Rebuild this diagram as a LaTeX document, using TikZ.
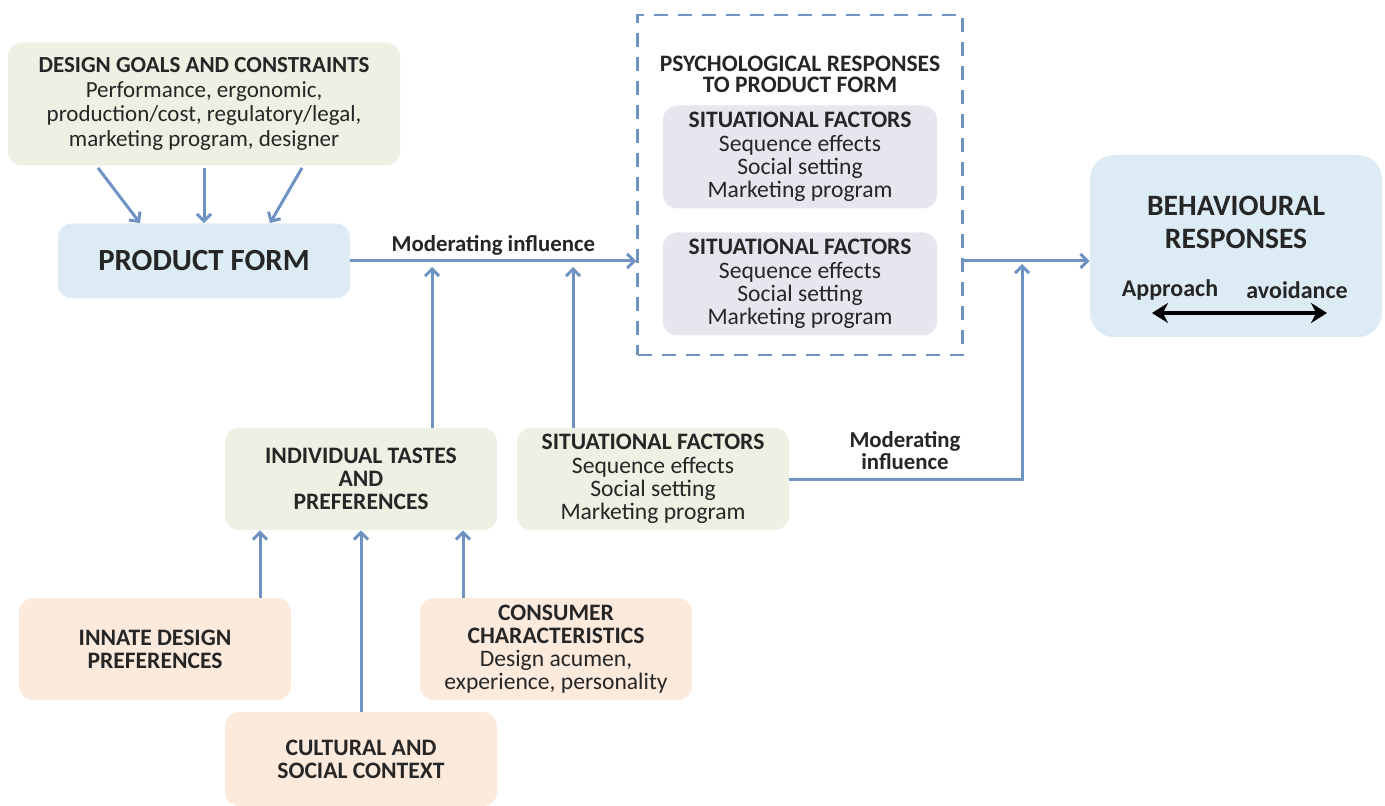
\documentclass[tikz,border=0pt]{standalone}
\usepackage{fontspec}
\setmainfont{Carlito}
\usetikzlibrary{arrows.meta}
\definecolor{goalfill}{HTML}{EEF0E3}
\definecolor{formfill}{HTML}{DDEBF4}
\definecolor{psyfill}{HTML}{E7E5EE}
\definecolor{rootfill}{HTML}{FCEADD}
\definecolor{linkblue}{HTML}{6E93C2}
\definecolor{inktext}{HTML}{262626}
\lineskiplimit=-20pt

\begin{document}
\begin{tikzpicture}[
    x=0.5pt, y=-0.5pt,
    box/.style={rectangle, rounded corners=7pt, inner sep=2pt, align=center, text=inktext, font=\fontsize{11.8}{11.6}\selectfont},
    goalbox/.style={box, fill=goalfill, minimum width=136pt, minimum height=51pt},
    sitbox/.style={box, fill=psyfill, minimum width=137pt, minimum height=51.5pt},
    rootbox/.style={box, fill=rootfill, minimum width=136pt, minimum height=51pt},
    tag/.style={text=inktext, align=center, inner sep=2pt, font=\fontsize{11.4}{11}\selectfont\bfseries},
    arrow/.style={-{Straight Barb[length=3.5pt, width=7pt]}, line width=1.5pt, draw=linkblue},
    bothway/.style={{Stealth[length=8pt, width=10pt]}-{Stealth[length=8pt, width=10pt]}, line width=2pt, black}
]
    \useasboundingbox (0,0) rectangle (1385,806);

    % top row
    \node[box, fill=goalfill, minimum width=196pt, minimum height=61.5pt, font=\fontsize{11.5}{12.4}\selectfont] (goals) at (204,104)
        {\textbf{DESIGN GOALS AND CONSTRAINTS}\\Performance, ergonomic,\\production/cost, regulatory/legal,\\marketing program, designer};
    \node[box, fill=formfill, minimum width=146pt, minimum height=37.5pt, font=\fontsize{15.4}{16}\selectfont\bfseries] (form) at (204,261) {PRODUCT FORM};

    \node[draw=linkblue, line width=1.2pt, dash pattern=on 7pt off 5pt, minimum width=162.5pt, minimum height=170pt] (psy) at (800,185) {};
    \node[tag, font=\fontsize{11.8}{10.6}\selectfont\bfseries] (psyhead) at (800,74) {PSYCHOLOGICAL RESPONSES\\TO PRODUCT FORM};
    \node[sitbox] (sfa) at (800,157) {\textbf{SITUATIONAL FACTORS}\\Sequence effects\\Social setting\\Marketing program};
    \node[sitbox] (sfb) at (800,284) {\textbf{SITUATIONAL FACTORS}\\Sequence effects\\Social setting\\Marketing program};

    \node[box, fill=formfill, minimum width=146pt, minimum height=91pt, rounded corners=12pt] (behav) at (1236,246) {};
    \node[tag, font=\fontsize{14.8}{16.5}\selectfont\bfseries] (behavhead) at (1236,222) {BEHAVIOURAL\\RESPONSES};
    \node[tag, font=\fontsize{12}{12}\selectfont\bfseries] (appr) at (1170,290) {Approach};
    \node[tag, font=\fontsize{12}{12}\selectfont\bfseries] (avoid) at (1297,290) {avoidance};
    \coordinate (apL) at (1152,313);
    \coordinate (apR) at (1327,313);

    % middle row
    \node[goalbox] (indiv) at (361,479) {\textbf{INDIVIDUAL TASTES}\\\textbf{AND}\\\textbf{PREFERENCES}};
    \node[goalbox] (sfc) at (653,479) {\textbf{SITUATIONAL FACTORS}\\Sequence effects\\Social setting\\Marketing program};
    \node[tag] (modtwo) at (905,451) {Moderating\\influence};

    % bottom row
    \node[rootbox] (innate) at (155,649) {\textbf{INNATE DESIGN}\\\textbf{PREFERENCES}};
    \node[rootbox] (consumer) at (556,649) {\textbf{CONSUMER}\\\textbf{CHARACTERISTICS}\\Design acumen,\\experience, personality};
    \node[rootbox, minimum height=47pt] (cultural) at (361,759) {\textbf{CULTURAL AND}\\\textbf{SOCIAL CONTEXT}};

    \coordinate (tasteup) at ([xshift=35.5pt]indiv.north);
    \coordinate (situp) at ([xshift=-40pt]sfc.north);
    \coordinate (joint) at (1022,262);

    \draw[arrow] ([xshift=-53pt, yshift=-1pt]goals.south) -- ([xshift=-32pt]form.north);
    \draw[arrow] ([yshift=-1pt]goals.south) -- (form.north);
    \draw[arrow] ([xshift=49pt, yshift=-1pt]goals.south) -- ([xshift=33pt]form.north);

    \draw[arrow] (form.east) -- (form.east -| psy.west) node[tag, midway, above] (modone) {Moderating influence};
    \draw[arrow, shorten >=3pt] (tasteup) -- (tasteup |- form.east);
    \draw[arrow, shorten >=3pt] (situp) -- (situp |- form.east);
    \draw[arrow] (form.east -| psy.east) -- (form.east -| behav.west);
    \draw[arrow, shorten >=1pt] (sfc.east) -| (joint);

    \draw[arrow] ([xshift=52.5pt]innate.north) -- ([xshift=-50.5pt]indiv.south);
    \draw[arrow] (cultural.north) -- (indiv.south);
    \draw[arrow] ([xshift=-46.5pt]consumer.north) -- ([xshift=51pt]indiv.south);

    \draw[bothway] (apL) -- (apR);
\end{tikzpicture}
\end{document}
